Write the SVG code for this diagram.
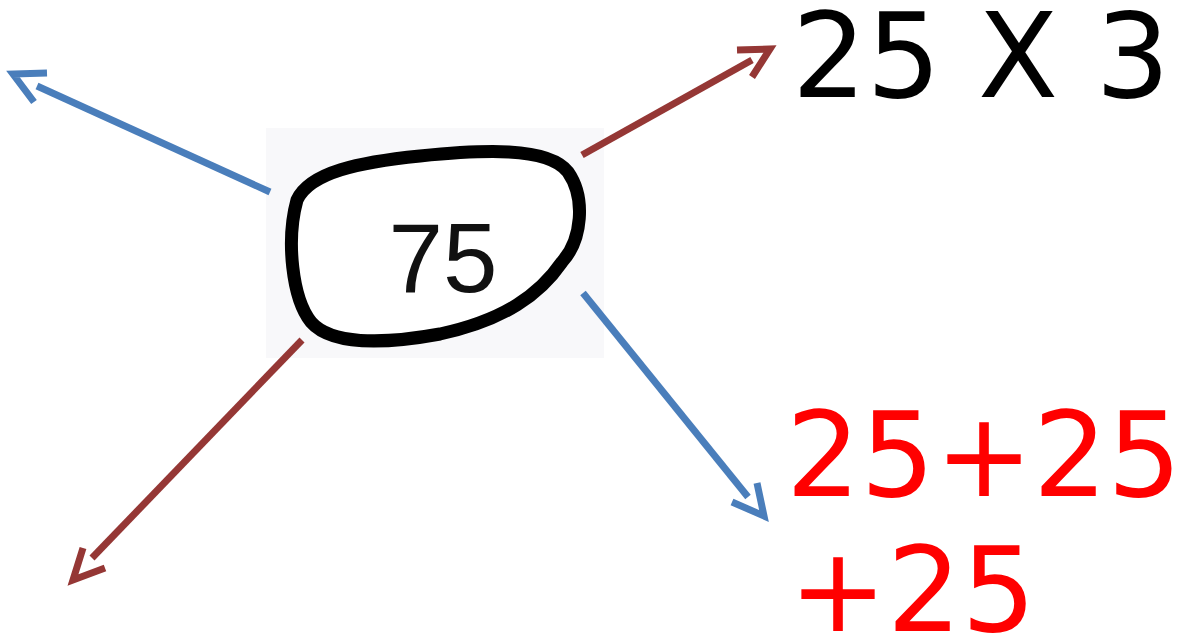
<svg xmlns="http://www.w3.org/2000/svg" width="1181" height="641" viewBox="0 0 1181 641">
<style>
.blue{stroke:#4a7ebb;stroke-width:7;fill:none}
.red{stroke:#953735;stroke-width:7;fill:none}
.big{font-family:"DejaVu Sans",sans-serif;font-size:117px}
</style>
<rect width="1181" height="641" fill="#ffffff"/>
<g id="node-75">
<rect x="266" y="128" width="338" height="230" fill="#f8f8fa"/>
<path d="M297,200 C310,172 360,162 420,156 C480,150 548,146 568,172 C586,198 582,240 562,262 C540,294 505,320 440,334 C380,345 330,344 311,322 C292,298 286,240 297,200 Z" fill="#ffffff" stroke="#000" stroke-width="13"/>
<text x="443" y="292" text-anchor="middle" font-family="'Liberation Sans',sans-serif" font-size="98" fill="#111">75</text>
</g>
<g id="node-25x3">
<text class="big" x="792" y="97" fill="#000">25 X 3</text>
</g>
<g id="node-sum">
<text class="big" x="786" y="496" fill="#ff0000">25+25</text>
<text class="big" x="789" y="631" fill="#ff0000">+25</text>
</g>
<g id="connectors">
<line class="blue" x1="270" y1="192" x2="37" y2="86"/>
<polyline class="blue" points="47,73 13,74 34,102"/>
<line class="red" x1="582" y1="155" x2="752" y2="60"/>
<polyline class="red" points="737,50 770,49 752,77"/>
<line class="red" x1="302" y1="340" x2="92" y2="558"/>
<polyline class="red" points="83,548 73,580 105,568"/>
<line class="blue" x1="583" y1="293" x2="748" y2="497"/>
<polyline class="blue" points="757,483 764,516 732,502"/>
</g>
</svg>
